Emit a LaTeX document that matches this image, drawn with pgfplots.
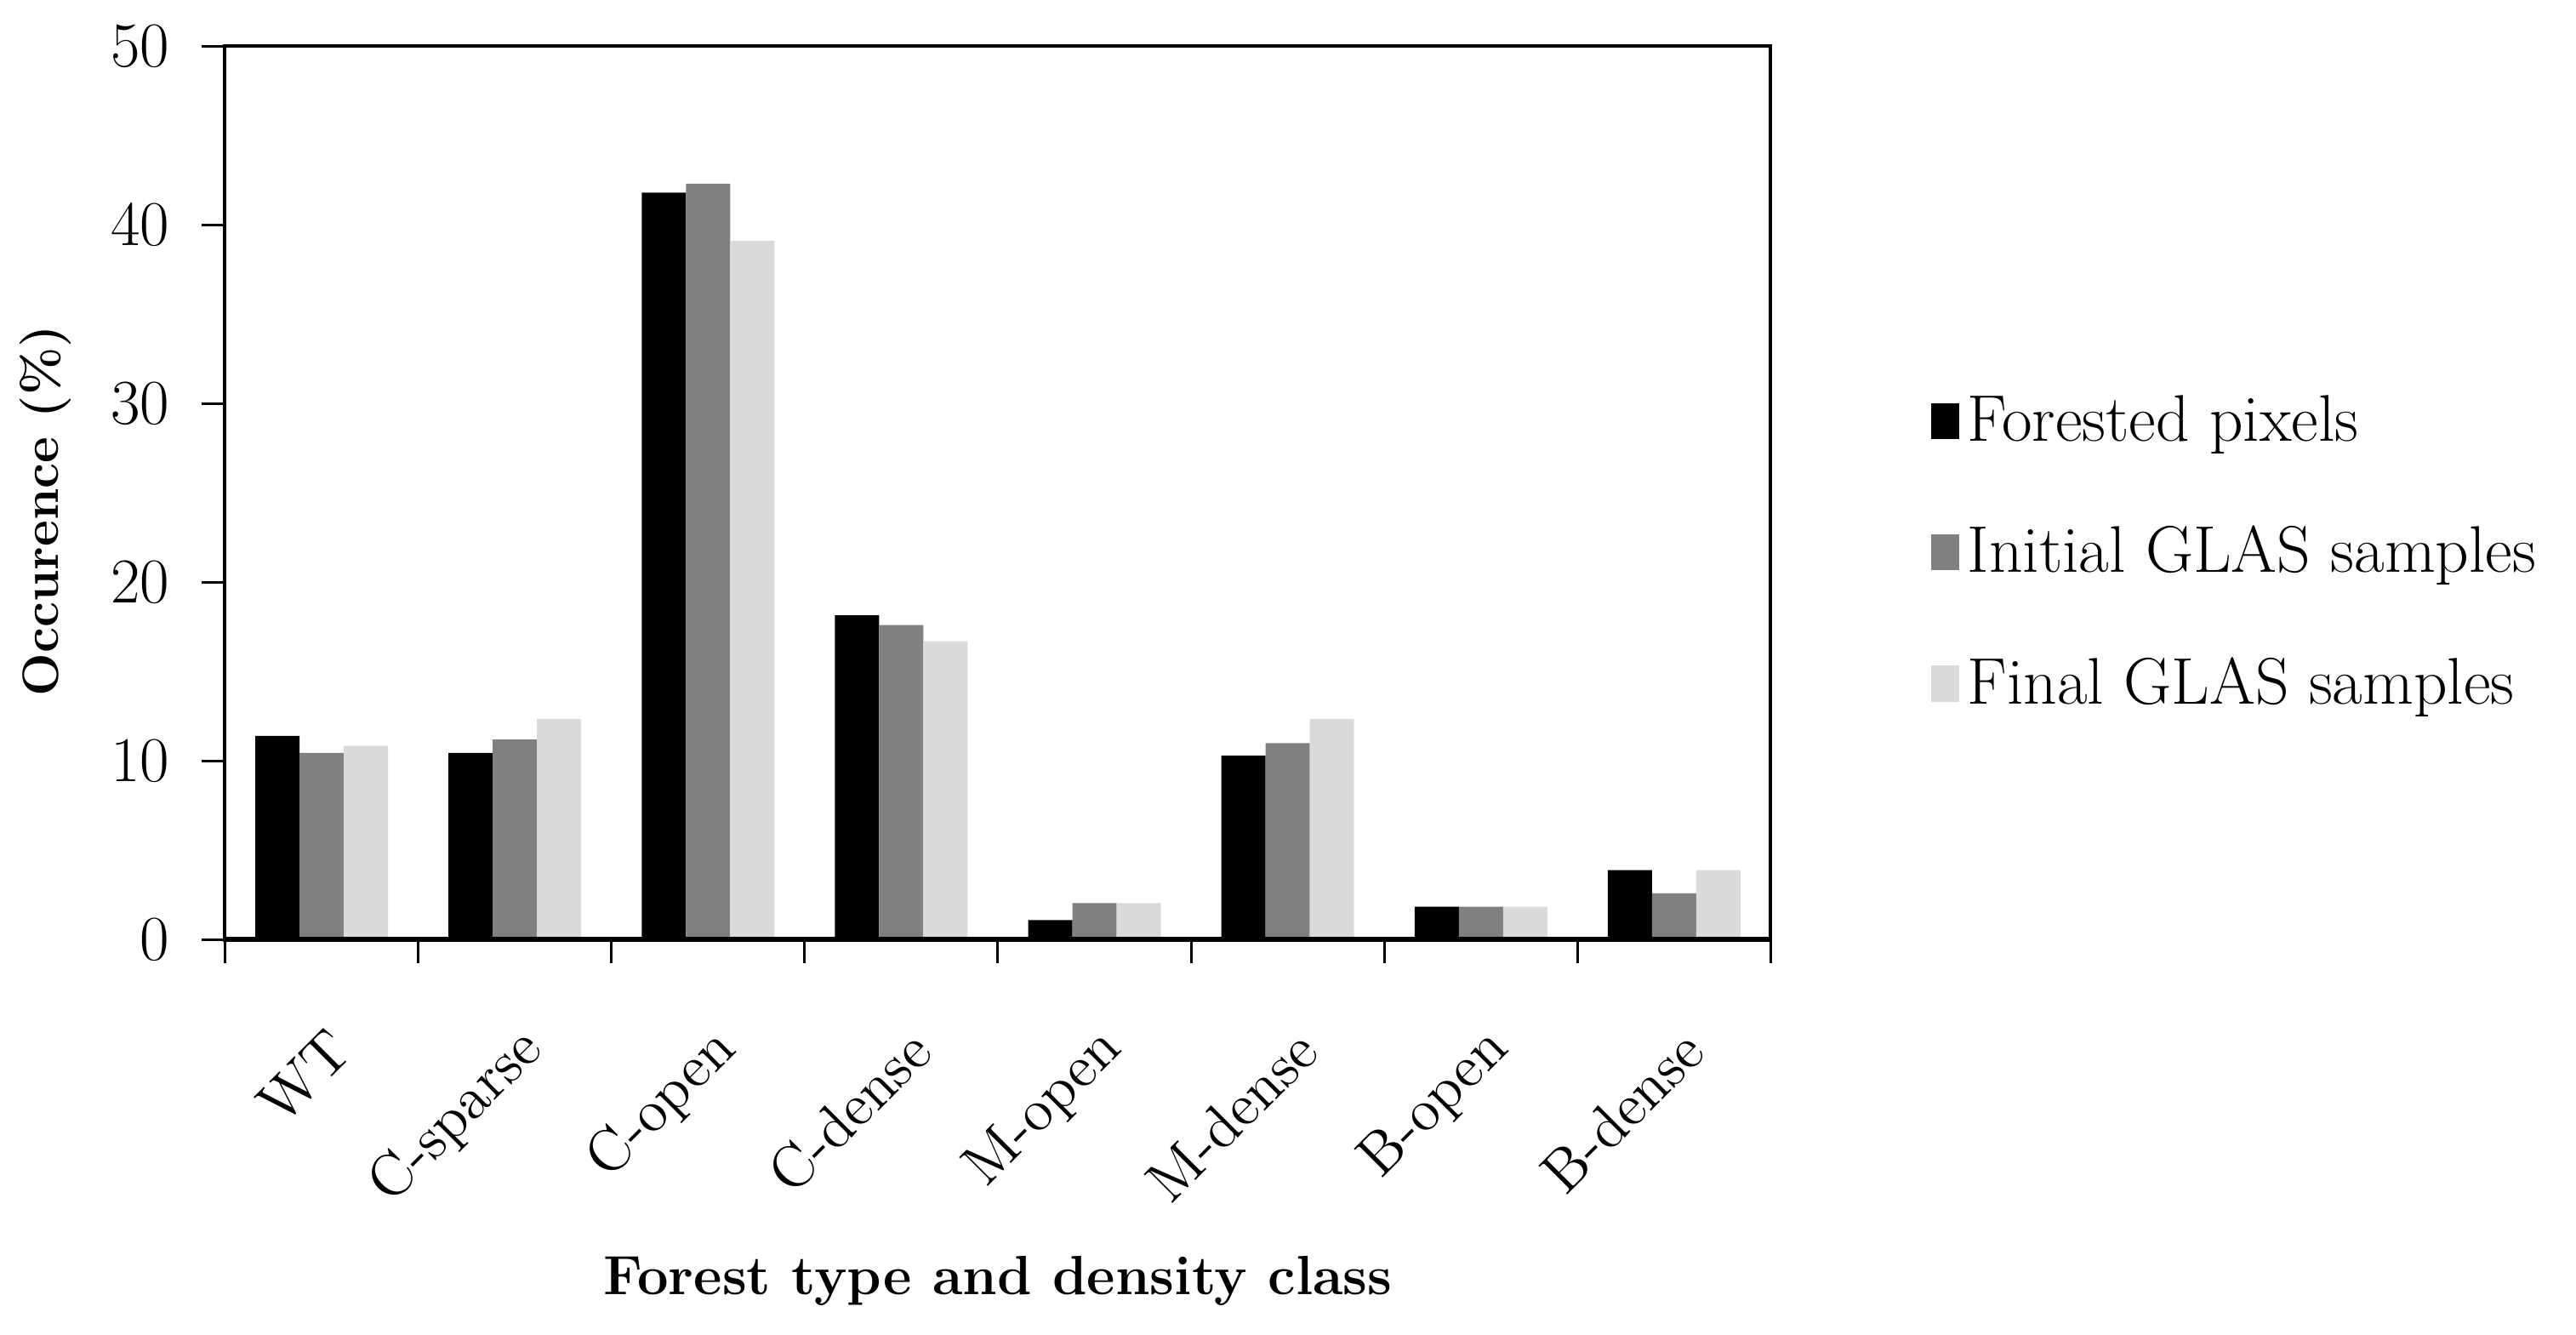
\documentclass[border=0pt]{standalone}
\usepackage{pgfplots}
\pgfplotsset{compat=1.18}
\definecolor{cA}{HTML}{000000}
\definecolor{cB}{HTML}{808080}
\definecolor{cC}{HTML}{DADADA}
\begin{document}
\fontsize{13pt}{15pt}\selectfont
\begin{tikzpicture}
\path[use as bounding box] (-52.9pt,-92.7pt) rectangle (552.7pt,220.9pt);
\begin{axis}[
  at={(0,0)}, anchor=south west,
  scale only axis, width=363.4pt, height=210.1pt,
  ybar=0pt, bar width=10.4pt,
  xmin=-0.5, xmax=7.5, ymin=0, ymax=50,
  xtick={-0.5,0.5,...,7.5},
  x tick label as interval,
  xticklabels={WT,C-sparse,C-open,C-dense,M-open,M-dense,B-open,B-dense},
  xtick pos=bottom, ytick pos=left,
  xtick align=outside, ytick align=outside,
  ytick={0,10,...,50},
  major tick length=5.5pt,
  tick style={black, line width=0.6pt},
  axis line style={line width=0.8pt},
  /pgf/number format/assume math mode=true,
  yticklabel style={font=\fontsize{15pt}{17pt}\selectfont, xshift=-3pt},
  xticklabel style={font=\fontsize{14pt}{16pt}\selectfont, rotate=45, anchor=east, inner sep=0pt, xshift=-9.5pt, yshift=-16pt},
  ylabel={\textbf{Occurence (\%)}},
  ylabel style={at={(axis description cs:-0.116,0.48)}, anchor=center, font=\fontsize{12pt}{14pt}\selectfont},
  xlabel={\textbf{Forest type and density class}},
  xlabel style={at={(axis description cs:0.5,-0.382)}, anchor=center, font=\fontsize{13pt}{15pt}\selectfont},
  legend style={at={(1.103,0.432)}, anchor=west, draw=none, fill=none,
    font=\fontsize{15.5pt}{17.5pt}\selectfont, row sep=14pt, inner sep=0pt,
    legend cell align=left},
  legend image code/.code={\fill[#1] (0pt,-4pt) rectangle (6.6pt,4.5pt);},
]
\addplot[fill=cA, draw=none] coordinates {(0,11.4) (1,10.45) (2,41.8) (3,18.15) (4,1.1) (5,10.3) (6,1.85) (7,3.9)};
\addplot[fill=cB, draw=none] coordinates {(0,10.45) (1,11.2) (2,42.3) (3,17.6) (4,2.05) (5,11.0) (6,1.85) (7,2.6)};
\addplot[fill=cC, draw=none] coordinates {(0,10.85) (1,12.35) (2,39.1) (3,16.7) (4,2.05) (5,12.35) (6,1.85) (7,3.9)};
\legend{Forested pixels, Initial GLAS samples, Final GLAS samples}
\draw[line width=1.4pt] (axis cs:-0.5,0) -- (axis cs:7.5,0);
\end{axis}
\end{tikzpicture}
\end{document}
